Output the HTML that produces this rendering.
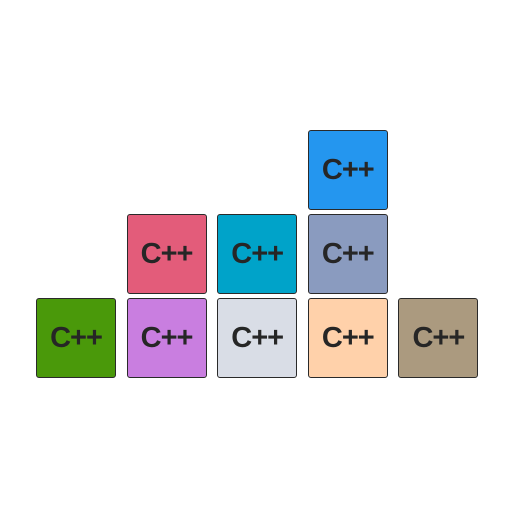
<!DOCTYPE html>
<html><head><meta charset="utf-8"><style>
body{margin:0;background:#fff;width:512px;height:512px;overflow:hidden;font-family:"Liberation Sans",sans-serif}
#chart{position:relative;width:512px;height:512px}
.tile{position:absolute;width:80px;height:80px;border:1px solid #2a2a2a;border-radius:3px;box-sizing:border-box;display:flex;align-items:center;justify-content:center;font-weight:bold;font-size:29px;color:#262626;letter-spacing:-1px}
</style></head><body>
<div id="chart"></div>
<script>
const categories=["A","B","C","D","E"];
const counts=[1,2,2,3,1];
const colors=[["#4a990a"],["#c97ee0","#e35c7a"],["#d9dde6","#00a3c9"],["#ffd1aa","#8a9bbf","#2496ef"],["#ab9a7f"]];
const x=i=>36+i*90.6;
const y=r=>298-r*84;
const c=document.getElementById('chart');
categories.forEach((cat,i)=>{
  for(let r=0;r<counts[i];r++){
    const t=document.createElement('div');
    t.className='tile';
    
    
    t.style.left=x(i)+'px';t.style.top=y(r)+'px';
    t.style.background=colors[i][r];
    t.textContent='C++';
    c.appendChild(t);
  }
});
</script>
</body></html>
